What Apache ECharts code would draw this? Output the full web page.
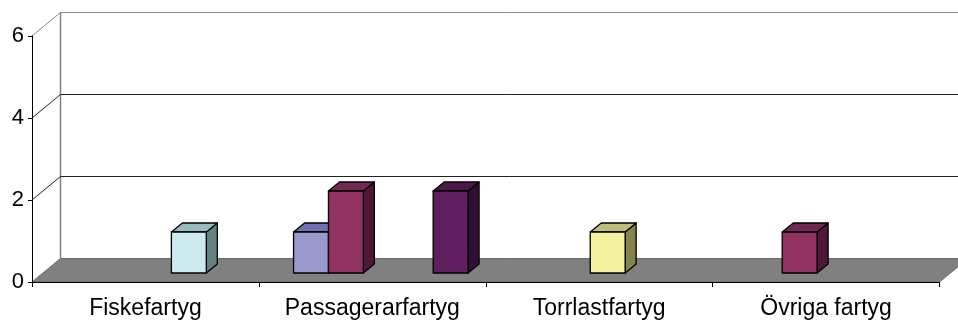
<!DOCTYPE html>
<html>
<head>
<meta charset="utf-8">
<script src="https://cdn.jsdelivr.net/npm/echarts@6/dist/echarts.min.js"></script>
<style>
  html, body { margin: 0; padding: 0; background: #fff; }
  #chart { width: 958px; height: 320px; }
</style>
</head>
<body>
<div id="chart"></div>
<script>
const categories = ["Fiskefartyg", "Passagerarfartyg", "Torrlastfartyg", "Övriga fartyg"];
const seriesNames = ["Serie 1", "Serie 2", "Serie 3", "Serie 4", "Serie 5"];
const serie1 = [0, 1, 0, 0];
const serie2 = [0, 2, 0, 1];
const serie3 = [0, 0, 1, 0];
const serie4 = [1, 0, 0, 0];
const serie5 = [0, 2, 0, 0];
const yTicks = [0, 2, 4, 6];

// front / top / side colours of the fake 3d blocks
const faces = [
  ["#9999cc", "#7070b4", "#4c4c80"],
  ["#923260", "#722850", "#4f1838"],
  ["#f2f2a0", "#bebe74", "#84844c"],
  ["#cdeaef", "#96bdbd", "#648080"],
  ["#5f1f5f", "#4a184a", "#301030"]
];

const WALL_DX = 28.5, WALL_DY = -23.5;   // depth of the floor
const BAR_SX = 8.5, BAR_SY = -9;         // where the bars stand on the floor
const BAR_DX = 11, BAR_DY = -9;          // depth of one bar
const GAP = 1.5;

let chart = echarts.init(document.getElementById("chart"), null, { renderer: "canvas" });

function renderWall(params, api) {
  const v = api.value(1);
  const cs = params.coordSys;
  const x0 = cs.x, x1 = cs.x + cs.width;
  const y = api.coord([0, v])[1];
  const yTop = api.coord([0, yTicks[yTicks.length - 1]])[1];
  if (v === 0) {
    return {
      type: "group",
      children: [
        { type: "polygon",
          shape: { points: [[x0, y], [x1, y], [x1 + WALL_DX, y + WALL_DY], [x0 + WALL_DX, y + WALL_DY]] },
          style: { fill: "#808080", stroke: "#6a6a6a", lineWidth: 1 } },
        { type: "line",
          shape: { x1: x0 + WALL_DX, y1: y + WALL_DY, x2: x0 + WALL_DX, y2: yTop + WALL_DY },
          style: { stroke: "#808080", lineWidth: 1.5 } }
      ]
    };
  }
  const col = v === yTicks[yTicks.length - 1] ? "#8c8c8c" : "#222";
  return {
    type: "group",
    children: [
      { type: "line",
        shape: { x1: x0, y1: y, x2: x0 + WALL_DX, y2: y + WALL_DY },
        style: { stroke: col, lineWidth: 1 } },
      { type: "line",
        shape: { x1: x0 + WALL_DX, y1: y + WALL_DY, x2: x1 + WALL_DX, y2: y + WALL_DY },
        style: { stroke: col, lineWidth: 1 } }
    ]
  };
}

function makeBarRenderer(idx) {
  const n = seriesNames.length;
  return function (params, api) {
    const cat = api.value(0), v = api.value(1);
    if (!v) return null;
    const band = api.size([1, 0])[0];
    const w = band / (n + GAP);
    const base = api.coord([cat, 0]);
    const top = api.coord([cat, v]);
    const left = base[0] - band / 2 + w * GAP / 2 + idx * w + BAR_SX;
    const yb = base[1] + BAR_SY, yt = top[1] + BAR_SY;
    const c = faces[idx];
    const edge = { stroke: "#000", lineWidth: 1.3, lineJoin: "round" };
    return {
      type: "group",
      children: [
        { type: "polygon",
          shape: { points: [[left + w, yt], [left + w + BAR_DX, yt + BAR_DY], [left + w + BAR_DX, yb + BAR_DY], [left + w, yb]] },
          style: Object.assign({ fill: c[2] }, edge) },
        { type: "polygon",
          shape: { points: [[left, yt], [left + w, yt], [left + w + BAR_DX, yt + BAR_DY], [left + BAR_DX, yt + BAR_DY]] },
          style: Object.assign({ fill: c[1] }, edge) },
        { type: "rect",
          shape: { x: left, y: yt, width: w, height: yb - yt },
          style: Object.assign({ fill: c[0] }, edge) }
      ]
    };
  };
}

const values = [serie1, serie2, serie3, serie4, serie5];

const barSeries = values.map((vals, i) => ({
  type: "custom",
  name: seriesNames[i],
  coordinateSystem: "cartesian2d",
  renderItem: makeBarRenderer(i),
  encode: { x: 0, y: 1 },
  data: vals.map((v, j) => [j, v]),
  z: 3,
  silent: true
}));

const wallSeries = {
  type: "custom",
  coordinateSystem: "cartesian2d",
  renderItem: renderWall,
  encode: { x: 0, y: 1 },
  data: yTicks.map(v => [0, v]),
  z: 1,
  silent: true
};

chart.setOption({
  animation: false,
  textStyle: { fontFamily: "Liberation Sans" },
  grid: { left: 32, right: 18.5, top: 36, bottom: 38 },
  xAxis: {
    type: "category",
    data: categories,
    z: 10,
    axisLine: { lineStyle: { color: "#000", width: 1 } },
    axisTick: { show: true, length: 5, interval: 0, lineStyle: { color: "#000" } },
    axisLabel: { fontSize: 23, color: "#000", margin: 15, interval: 0, fontFamily: "Liberation Sans" },
    splitLine: { show: false }
  },
  yAxis: {
    type: "value",
    min: 0,
    max: 6,
    interval: 2,
    z: 10,
    axisLine: { show: true, lineStyle: { color: "#000", width: 1 } },
    axisTick: { show: true, length: 4, lineStyle: { color: "#000" } },
    axisLabel: { fontSize: 22, color: "#000", margin: 8, fontFamily: "Liberation Sans" },
    splitLine: { show: false }
  },
  series: [wallSeries].concat(barSeries)
});
</script>
</body>
</html>
